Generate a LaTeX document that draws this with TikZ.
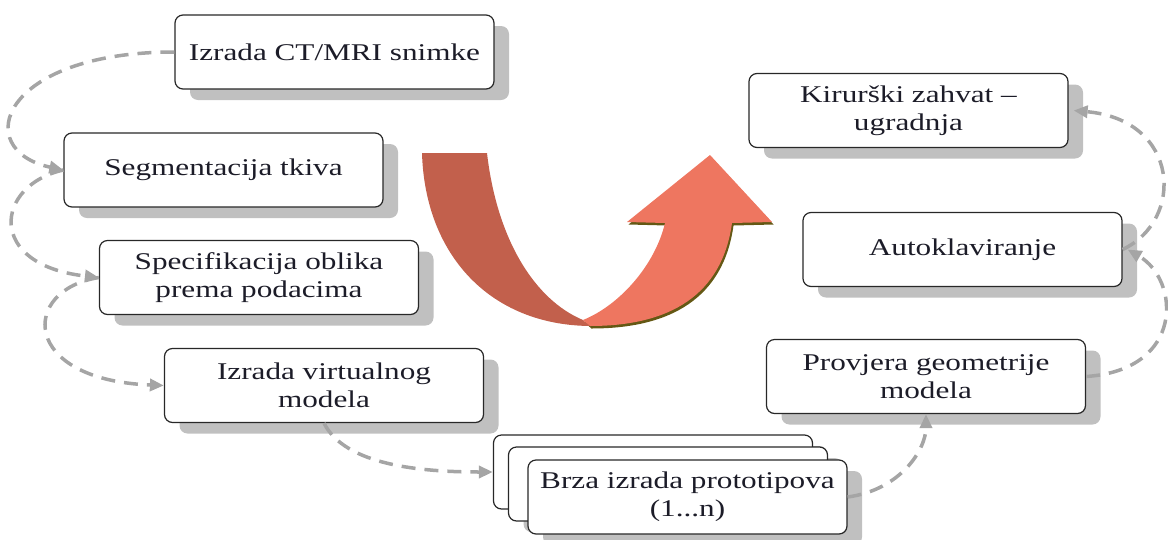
\documentclass[tikz,border=0pt]{standalone}
\usepackage{fontspec}
\usepackage{tikz}
\usetikzlibrary{arrows.meta,positioning,shadows}
\newfontfamily\boxfont[FakeStretch=1.3,Ligatures=TeX]{Liberation Serif}
\definecolor{boxline}{RGB}{40,40,40}
\definecolor{boxtext}{RGB}{28,28,40}
\definecolor{shadowgray}{RGB}{192,192,192}
\definecolor{linkgray}{RGB}{165,165,165}
\definecolor{ribbondark}{RGB}{194,96,76}
\definecolor{ribbonlight}{RGB}{238,118,96}
\definecolor{ribbonedge}{RGB}{100,88,20}

\begin{document}
\begin{tikzpicture}[x=1pt, y=-1pt,
  box/.style={draw=boxline, line width=1.2pt, rounded corners=8pt, fill=white,
    minimum width=319pt, minimum height=74pt, inner sep=0pt, align=center,
    text=boxtext, font=\boxfont\fontsize{24}{28}\selectfont,
    drop shadow={shadow xshift=15pt, shadow yshift=-11pt,
      fill=shadowgray, opacity=1}},
  arr/.style={-{Triangle[length=14pt,width=12pt]}, line width=3.5pt,
    color=linkgray, dash pattern=on 14pt off 9pt}]
\useasboundingbox (0,0) rectangle (1168,539);
% process steps
\node[box] (ct) at (334.5,52) {Izrada CT/MRI snimke};
\node[box] (seg) at (223.5,170) {Segmentacija tkiva};
\node[box] (spec) at (259,277.5) {Specifikacija oblika\\prema podacima};
\node[box] (virt) at (324,385.5) {Izrada virtualnog\\modela};
\node[box] (proto3) at (653,472) {};
\node[box] (proto2) at (668,484) {};
\node[box] (proto) at (687.5,497) {Brza izrada prototipova\\(1...n)};
\node[box] (prov) at (926,376.5) {Provjera geometrije\\modela};
\node[box] (auto) at (962.5,249.5) {Autoklaviranje};
\node[box] (kir) at (908.5,110.5) {Kirurški zahvat --\\ugradnja};
% big turning arrow
\fill[ribbonedge] ([shift={(1.5,2.5)}]583,320) .. controls ([shift={(1.5,2.5)}]620,305) and ([shift={(1.5,2.5)}]655,265) .. ([shift={(1.5,2.5)}]665,223)
  -- ([shift={(1.5,2.5)}]627,222) -- ([shift={(1.5,2.5)}]710,155) -- ([shift={(1.5,2.5)}]772,222) -- ([shift={(1.5,2.5)}]732,223)
  .. controls ([shift={(1.5,2.5)}]722,295) and ([shift={(1.5,2.5)}]670,326) .. ([shift={(1.5,2.5)}]590,326) -- cycle;
\fill[ribbondark] (422,153) -- (487,153) .. controls (497,240) and (535,300) .. (583,320)
  -- (590,326) .. controls (490,325) and (425,255) .. (422,153) -- cycle;
\fill[ribbonlight] (583,320) .. controls (620,305) and (655,265) .. (665,223)
  -- (627,222) -- (710,155) -- (772,222) -- (732,223)
  .. controls (722,295) and (670,326) .. (590,326) -- cycle;
% links
\draw[arr] (ct.west) .. controls (0,52) and (-30,150) .. (seg.west);
\draw[arr] (seg.west) .. controls (-5,185) and (-15,265) .. (spec.west);
\draw[arr] (spec.west) .. controls (20,290) and (20,380) .. (virt.west);
\draw[arr] (virt.south) .. controls (345,465) and (420,472) .. (proto3.west);
\draw[arr] (proto.east) .. controls (900,490) and (926,450) .. (prov.south);
\draw[arr] (prov.east) .. controls (1185,370) and (1180,280) .. ([xshift=5pt]auto.east);
\draw[arr] (auto.east) .. controls (1185,220) and (1180,120) .. ([xshift=5pt]kir.east);
\end{tikzpicture}
\end{document}
